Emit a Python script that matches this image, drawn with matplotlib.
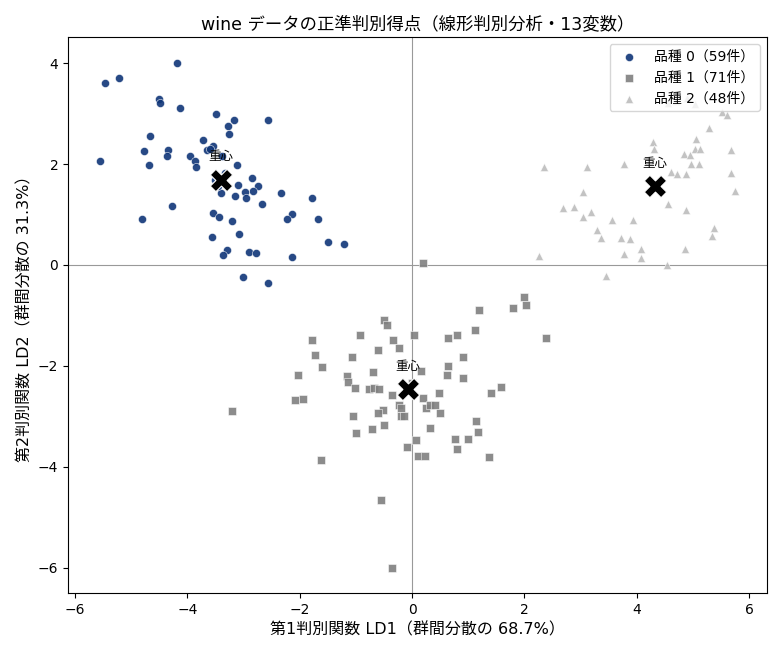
import matplotlib
matplotlib.use("Agg")
import matplotlib.pyplot as plt
import numpy as np

plt.rcParams['font.family'] = ['DejaVu Sans', 'Noto Sans CJK JP']

class0_x = [-4.18, -5.22, -5.47, -4.51, -4.49, -4.13, -3.49, -3.17, -2.56, -3.27,
            -3.26, -4.67, -3.73, -3.54, -4.35, -4.77, -3.65, -3.60, -4.37, -3.96,
            -3.87, -5.56, -4.69, -3.11, -3.84, -3.39, -2.85, -2.74, -3.10, -2.83,
            -2.98, -2.96, -3.15, -3.40, -3.51, -2.33, -1.78, -2.67, -3.54, -3.43,
            -3.20, -2.14, -2.22, -1.67, -3.56, -3.08, -1.49, -1.21, -3.29, -3.36,
            -2.91, -2.77, -2.13, -3.01, -2.56, -4.27, -4.81, -3.33, -3.46]
class0_y = [4.01, 3.71, 3.61, 3.28, 3.21, 3.10, 3.00, 2.88, 2.88, 2.76,
            2.60, 2.56, 2.47, 2.35, 2.27, 2.25, 2.27, 2.29, 2.16, 2.16,
            2.05, 2.05, 1.98, 1.98, 1.95, 2.15, 1.73, 1.57, 1.59, 1.47,
            1.44, 1.33, 1.37, 1.43, 1.69, 1.43, 1.33, 1.21, 1.03, 0.95,
            0.87, 1.01, 0.91, 0.91, 0.56, 0.61, 0.46, 0.41, 0.30, 0.19,
            0.26, 0.23, 0.16, -0.24, -0.36, 1.17, 0.91, 1.83, 1.57]

class1_x = [0.20, -0.50, -0.45, -0.92, -1.79, 0.03, -0.34, -0.23, -0.61, -1.73,
            -1.07, -1.61, -0.70, 0.16, -2.04, -1.16, -1.14, -1.02, -0.77, -0.68,
            -0.59, -0.01, -0.35, 0.19, -2.09, -1.95, 1.99, 2.03, 1.80, 1.19,
            1.12, 0.80, 0.64, 2.38, 0.90, 0.64, 0.62, 0.91, 1.58, 1.40,
            0.48, -0.24, -0.20, 0.24, -0.52, -0.60, -1.06, -0.20, -0.14, -0.50,
            -0.71, -1.00, 0.31, 0.07, -0.09, 0.11, 0.23, -1.63, -0.56, 0.31,
            0.40, 0.49, 1.14, 1.17, 0.76, 1.00, 0.80, 1.37, -3.20, -0.36, -0.04]
class1_y = [0.03, -1.09, -1.18, -1.39, -1.49, -1.38, -1.49, -1.64, -1.68, -1.78,
            -1.82, -2.02, -2.11, -2.09, -2.18, -2.19, -2.31, -2.43, -2.46, -2.44,
            -2.46, -2.34, -2.58, -2.64, -2.67, -2.66, -0.63, -0.79, -0.85, -0.89,
            -1.29, -1.38, -1.45, -1.45, -1.82, -2.00, -2.17, -2.24, -2.41, -2.54,
            -2.54, -2.77, -2.84, -2.84, -2.87, -2.94, -2.99, -2.99, -2.99, -3.17,
            -3.25, -3.33, -3.23, -3.47, -3.61, -3.79, -3.79, -3.87, -4.65, -2.78,
            -2.77, -2.94, -3.09, -3.31, -3.45, -3.45, -3.65, -3.81, -2.90, -6.00, -2.47]

class2_x = [2.34, 3.11, 3.78, 3.05, 2.68, 2.89, 3.05, 3.18, 3.55, 3.93,
            3.29, 3.37, 3.71, 3.87, 2.25, 3.77, 4.07, 4.07, 3.46, 4.29,
            4.30, 5.28, 5.05, 5.52, 5.61, 5.04, 5.68, 5.03, 5.13, 4.84,
            4.94, 4.97, 5.10, 4.60, 4.72, 4.87, 5.67, 5.75, 4.56, 4.87,
            5.37, 5.33, 4.85, 4.53, 4.35, 4.55, 4.90, 4.70]
class2_y = [1.95, 1.95, 2.00, 1.44, 1.12, 1.15, 0.96, 1.05, 0.90, 0.89,
            0.69, 0.54, 0.54, 0.52, 0.17, 0.21, 0.31, 0.13, -0.22, 2.43,
            2.29, 2.72, 2.50, 3.03, 2.98, 3.19, 2.27, 2.30, 2.30, 2.20,
            2.17, 2.01, 2.00, 1.85, 1.80, 1.80, 1.82, 1.47, 1.21, 1.09,
            0.74, 0.58, 0.31, -0.01, 1.60, 3.20, 3.30, 3.25]

labels = ['品種 0（59件）', '品種 1（71件）', '品種 2（48件）']
colors = ['#0f3578', '#808080', '#bdbdbd']
markers = ['o', 's', '^']

fig, ax = plt.subplots(figsize=(7.77, 6.54), dpi=100)
fig.subplots_adjust(left=0.0875, right=0.987, top=0.943, bottom=0.093)

ax.axhline(0, color='#999999', lw=0.8, zorder=1)
ax.axvline(0, color='#999999', lw=0.8, zorder=1)

data = [(class0_x, class0_y), (class1_x, class1_y), (class2_x, class2_y)]
for (xs, ys), lab, c, m in zip(data, labels, colors, markers):
    ax.scatter(xs, ys, s=34, c=c, marker=m, alpha=0.9, edgecolors='white',
               linewidths=0.4, label=lab, zorder=2)

for xs, ys in data:
    cx, cy = np.mean(xs), np.mean(ys)
    ax.scatter([cx], [cy], s=260, marker='X', c='black', edgecolors='white',
               linewidths=0.8, zorder=4)
    ax.annotate('重心', (cx, cy), xytext=(0, 12), textcoords='offset points',
                ha='center', va='bottom', fontsize=9, zorder=5)

ax.set_title('wine データの正準判別得点（線形判別分析・13変数）', fontsize=12.5)
ax.set_xlabel('第1判別関数 LD1（群間分散の 68.7%）', fontsize=11.5)
ax.set_ylabel('第2判別関数 LD2（群間分散の 31.3%）', fontsize=11.5)
ax.legend(loc='upper right', fontsize=10)

fig.savefig('out.png', dpi=100)
